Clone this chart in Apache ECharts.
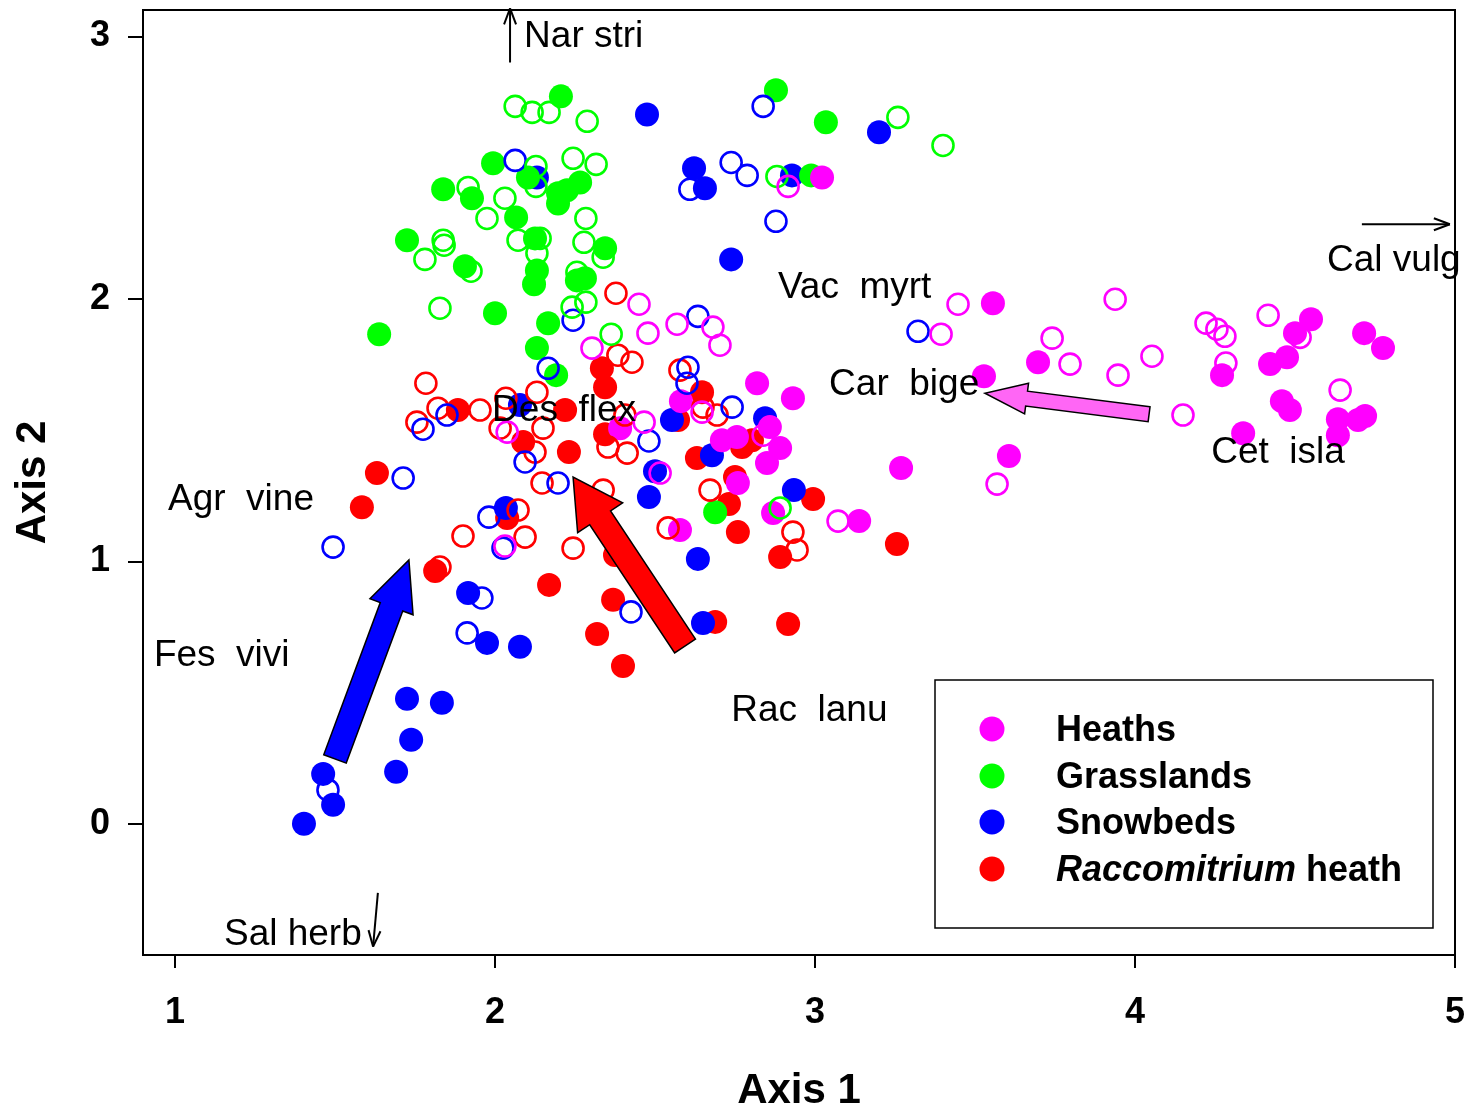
<!DOCTYPE html>
<html><head><meta charset="utf-8">
<script src="https://cdn.jsdelivr.net/npm/echarts@6/dist/echarts.min.js"></script>
<style>html,body{margin:0;padding:0;background:#fff}#c{width:1470px;height:1109px}</style>
</head><body><div id="c"></div>
<script>
// ---- data (Axis 1, Axis 2 scores) ----
const categories = ['Heaths', 'Grasslands', 'Snowbeds', 'Raccomitrium heath'];
const xTicks = [1, 2, 3, 4, 5];
const yTicks = [0, 1, 2, 3];

const heathsFilled = [
[3.022,2.462],[3.556,1.983],[3.528,1.705],[3.606,1.401],[3.269,1.355],[3.138,1.153],[3.697,1.758],[4.272,1.709],[4.338,1.488],[4.422,1.751],[4.475,1.777],[4.5,1.869],[4.55,1.922],[4.459,1.61],[4.484,1.576],[4.716,1.869],[4.775,1.812],[4.634,1.541],[4.719,1.553],[4.697,1.538],[4.634,1.48],
[2.819,1.678],[2.931,1.621],[2.391,1.507],[2.581,1.61],[2.709,1.461],[2.756,1.473],[2.859,1.511],[2.891,1.431],[2.85,1.374],[2.759,1.298],[2.578,1.119],[2.869,1.184]
];
const heathsOpen = [
[2.916,2.428],[3.447,1.979],[3.394,1.865],[3.938,1.998],[3.741,1.85],[3.797,1.751],[3.947,1.709],[3.569,1.294],[3.072,1.153],[4.053,1.781],[4.222,1.907],[4.256,1.884],[4.281,1.857],[4.284,1.755],[4.416,1.937],[4.516,1.853],[4.15,1.557],[4.641,1.652],
[2.45,1.979],[2.569,1.903],[2.681,1.892],[2.478,1.869],[2.303,1.812],[2.703,1.823],[2.466,1.53],[2.647,1.568],[2.516,1.336],[2.838,1.48],[2.038,1.492],[2.031,1.058]
];
const grassFilled = [
[2.206,2.771],[1.994,2.516],[2.103,2.462],[1.838,2.417],[1.928,2.383],[2.197,2.402],[2.225,2.413],[2.266,2.443],[2.197,2.363],[2.066,2.31],[1.725,2.223],[2.125,2.23],[1.906,2.124],[2.131,2.108],[2.122,2.055],[2.256,2.07],[2.281,2.078],[2.344,2.192],[2.0,1.945],[2.166,1.907],[1.638,1.865],[2.131,1.812],[2.191,1.709],[2.878,2.794],[3.034,2.672],[2.988,2.47],[2.688,1.187]
];
const grassOpen = [
[2.063,2.733],[2.116,2.71],[2.169,2.71],[2.288,2.676],[2.244,2.535],[2.316,2.512],[2.128,2.504],[2.128,2.428],[1.916,2.424],[2.031,2.383],[1.975,2.306],[2.284,2.306],[2.072,2.223],[2.141,2.23],[1.838,2.223],[1.841,2.204],[1.781,2.15],[2.131,2.173],[2.278,2.215],[2.338,2.158],[2.256,2.101],[1.925,2.105],[2.284,1.987],[2.241,1.968],[1.828,1.964],[2.363,1.865],[3.259,2.691],[3.4,2.584],[2.881,2.466],[2.891,1.203]
];
const snowFilled = [
[2.131,2.462],[2.475,2.702],[3.2,2.634],[2.622,2.497],[2.656,2.421],[2.928,2.47],[2.738,2.15],[2.078,1.595],[2.034,1.203],[1.916,0.879],[2.553,1.538],[2.844,1.545],[2.5,1.343],[2.481,1.245],[2.678,1.404],[2.934,1.271],[2.634,1.009],[1.975,0.689],[2.078,0.674],[1.725,0.476],[1.834,0.461],[1.738,0.32],[1.691,0.198],[1.463,0.19],[1.494,0.072],[1.403,0.0],[2.65,0.765]
];
const snowOpen = [
[2.063,2.527],[2.838,2.733],[2.609,2.417],[2.738,2.519],[2.788,2.47],[2.878,2.295],[2.634,1.933],[3.322,1.876],[2.244,1.918],[2.166,1.735],[1.85,1.557],[1.775,1.503],[2.094,1.378],[1.713,1.317],[2.197,1.298],[1.981,1.168],[2.025,1.05],[1.494,1.054],[2.603,1.739],[2.6,1.678],[2.741,1.587],[2.481,1.458],[1.959,0.86],[1.913,0.727],[2.425,0.807],[1.478,0.129]
];
const racFilled = [
[1.884,1.576],[2.088,1.454],[1.631,1.336],[1.584,1.206],[2.038,1.165],[1.813,0.963],[2.169,0.91],[2.219,1.576],[2.231,1.416],[2.334,1.735],[2.344,1.663],[2.344,1.484],[2.631,1.393],[2.647,1.644],[2.772,1.435],[2.803,1.461],[2.75,1.321],[2.731,1.218],[2.759,1.111],[2.891,1.016],[2.994,1.237],[3.256,1.066],[2.369,0.853],[2.319,0.723],[2.4,0.601],[2.688,0.769],[2.916,0.761],[2.375,1.024],[2.572,1.538]
];
const racOpen = [
[1.784,1.678],[1.822,1.583],[1.756,1.53],[1.953,1.576],[2.034,1.621],[2.131,1.644],[2.016,1.507],[2.15,1.507],[2.125,1.416],[2.147,1.298],[2.072,1.195],[1.9,1.096],[2.094,1.092],[1.828,0.978],[2.244,1.05],[2.338,1.271],[2.428,1.758],[2.384,1.785],[2.413,1.412],[2.353,1.435],[2.541,1.127],[2.578,1.728],[2.65,1.587],[2.694,1.557],[2.672,1.271],[2.931,1.111],[2.944,1.043],[2.378,2.021],[2.406,1.557]
];

// species scores (label anchors)
const speciesNames = ['Nar stri','Cal vulg','Vac  myrt','Car  bige','Des  flex','Cet  isla','Agr  vine','Fes  vivi','Rac  lanu','Sal herb'];
const speciesPos = [[2.091,3.007],[4.6,2.154],[2.884,2.048],[3.044,1.678],[1.991,1.579],[4.238,1.42],[0.978,1.241],[0.934,0.647],[2.738,0.438],[1.153,-0.415]];

// fitted vectors of vegetation groups (big arrows)
const arrowTails = [[1.5,0.247],[2.594,0.677],[4.044,1.56]];
const arrowTips  = [[1.731,1.005],[2.244,1.321],[3.531,1.64]];

// species vectors pointing outside the plot (thin arrows)
const thinFrom = [[2.047,2.90],[4.709,2.284],[1.634,-0.263]];
const thinTo   = [[2.047,3.106],[4.984,2.284],[1.619,-0.468]];

// ---- styles ----
const colors = ['#ff00ff', '#00ff00', '#0000ff', '#ff0000'];
const arrowStyles = [
  {color:'#0000ff', shaft:24, headW:46, head:50},
  {color:'#ff0000', shaft:25, headW:54, head:49},
  {color:'#ff66f5', shaft:15, headW:31, head:42}
];
const FONT = '"Liberation Sans", Arial, Helvetica, sans-serif';

function filledSeries(name, data, color) {
  return {type:'scatter', name, data, symbol:'circle', symbolSize:24, z:3,
    itemStyle:{color, opacity:1}, emphasis:{disabled:true}, silent:true};
}
function openSeries(name, data, color) {
  return {type:'scatter', name, data, symbol:'circle', symbolSize:21, z:4,
    itemStyle:{color:'rgba(255,255,255,0)', borderColor:color, borderWidth:2.6, opacity:1},
    emphasis:{disabled:true}, silent:true};
}

// legend drawn as a boxed key
const legendBox = {x:935, y:680, w:498, h:248};
const legendRowY = [729, 776, 822, 869];
const legendGraphics = [
  {type:'rect', shape:{x:legendBox.x, y:legendBox.y, width:legendBox.w, height:legendBox.h},
   style:{fill:'#fff', stroke:'#000', lineWidth:1.5}, z:20, silent:true}
];
categories.forEach((c, i) => {
  legendGraphics.push({type:'circle', shape:{cx:992, cy:legendRowY[i], r:12.5},
    style:{fill:colors[i]}, z:21, silent:true});
  legendGraphics.push({type:'text', x:1056, y:legendRowY[i] + 2, z:21, silent:true,
    style:{
      text: c === 'Raccomitrium heath' ? '{i|Raccomitrium} heath' : c,
      font:'bold 36px ' + FONT, fill:'#000', verticalAlign:'middle', align:'left',
      rich:{i:{font:'italic bold 36px ' + FONT, fill:'#000'}}
    }});
});

const chart = echarts.init(document.getElementById('c'), null, {renderer:'canvas'});
const option = {
  backgroundColor:'#fff',
  animation:false,
  grid:{left:143, top:10, right:15, bottom:154, outerBoundsMode:'none', containLabel:false,
    show:true, borderColor:'#000', borderWidth:2, backgroundColor:'transparent'},
  xAxis:{type:'value', min:0.9, max:5,
    axisLine:{show:true, onZero:false, lineStyle:{color:'#000', width:2}},
    axisTick:{show:true, customValues:xTicks, length:13, lineStyle:{color:'#000', width:2}},
    axisLabel:{customValues:xTicks, margin:40, color:'#000', fontSize:36, fontWeight:'bold', fontFamily:FONT},
    splitLine:{show:false},
    name:'Axis 1', nameLocation:'middle', nameGap:115,
    nameTextStyle:{fontSize:42, fontWeight:'bold', color:'#000', fontFamily:FONT}},
  yAxis:{type:'value', min:-0.5, max:3.1,
    axisLine:{show:true, onZero:false, lineStyle:{color:'#000', width:2}},
    axisTick:{show:true, customValues:yTicks, length:15, lineStyle:{color:'#000', width:2}},
    axisLabel:{customValues:yTicks, margin:33, color:'#000', fontSize:36, fontWeight:'bold', fontFamily:FONT},
    splitLine:{show:false},
    name:'Axis 2', nameLocation:'middle', nameGap:89,
    nameTextStyle:{fontSize:42, fontWeight:'bold', color:'#000', fontFamily:FONT}},
  graphic: legendGraphics,
  series:[
    filledSeries('Raccomitrium heath', racFilled, colors[3]),
    filledSeries('Snowbeds', snowFilled, colors[2]),
    filledSeries('Grasslands', grassFilled, colors[1]),
    filledSeries('Heaths', heathsFilled, colors[0]),
    openSeries('Raccomitrium heath (open)', racOpen, colors[3]),
    openSeries('Snowbeds (open)', snowOpen, colors[2]),
    openSeries('Grasslands (open)', grassOpen, colors[1]),
    openSeries('Heaths (open)', heathsOpen, colors[0]),
    {
      type:'custom', name:'group vectors', coordinateSystem:'cartesian2d', z:10, silent:true, clip:false,
      data: arrowTips.map((t, i) => [arrowTails[i][0], arrowTails[i][1], t[0], t[1]]),
      encode:{x:[0,2], y:[1,3]},
      renderItem(params, api) {
        const st = arrowStyles[params.dataIndex];
        const a = api.coord([api.value(0), api.value(1)]);
        const b = api.coord([api.value(2), api.value(3)]);
        const dx = b[0]-a[0], dy = b[1]-a[1], L = Math.hypot(dx, dy);
        const ux = dx/L, uy = dy/L, nx = -uy, ny = ux;
        const nk = [b[0]-ux*st.head, b[1]-uy*st.head];
        const sw = st.shaft/2, hw = st.headW/2;
        const pts = [
          [a[0]+nx*sw, a[1]+ny*sw], [nk[0]+nx*sw, nk[1]+ny*sw], [nk[0]+nx*hw, nk[1]+ny*hw],
          b, [nk[0]-nx*hw, nk[1]-ny*hw], [nk[0]-nx*sw, nk[1]-ny*sw], [a[0]-nx*sw, a[1]-ny*sw]
        ];
        return {type:'polygon', shape:{points:pts}, style:{fill:st.color, stroke:'#000', lineWidth:1.5, lineJoin:'miter'}};
      }
    },
    {
      type:'custom', name:'species vectors', coordinateSystem:'cartesian2d', z:10, silent:true, clip:false,
      data: thinTo.map((t, i) => [thinFrom[i][0], thinFrom[i][1], t[0], t[1]]),
      encode:{x:[0,2], y:[1,3]},
      renderItem(params, api) {
        const a = api.coord([api.value(0), api.value(1)]);
        const b = api.coord([api.value(2), api.value(3)]);
        const dx = b[0]-a[0], dy = b[1]-a[1], L = Math.hypot(dx, dy);
        const ux = dx/L, uy = dy/L, nx = -uy, ny = ux;
        const hl = 16, hw = 6;
        const s = {stroke:'#000', lineWidth:2, fill:null};
        return {type:'group', children:[
          {type:'line', shape:{x1:a[0], y1:a[1], x2:b[0], y2:b[1]}, style:s},
          {type:'line', shape:{x1:b[0], y1:b[1], x2:b[0]-ux*hl+nx*hw, y2:b[1]-uy*hl+ny*hw}, style:s},
          {type:'line', shape:{x1:b[0], y1:b[1], x2:b[0]-ux*hl-nx*hw, y2:b[1]-uy*hl-ny*hw}, style:s}
        ]};
      }
    },
    {
      type:'scatter', name:'species', z:12, silent:true, symbolSize:0,
      data: speciesPos.map((p, i) => ({value:p, name:speciesNames[i]})),
      itemStyle:{color:'rgba(0,0,0,0)'},
      label:{show:true, position:'right', distance:0, offset:[0,2], formatter:p => p.name, opacity:1,
        color:'#000', fontSize:37, fontFamily:FONT, verticalAlign:'middle', textBorderWidth:0},
      emphasis:{disabled:true}
    }
  ]
};
chart.setOption(option);
</script></body></html>
